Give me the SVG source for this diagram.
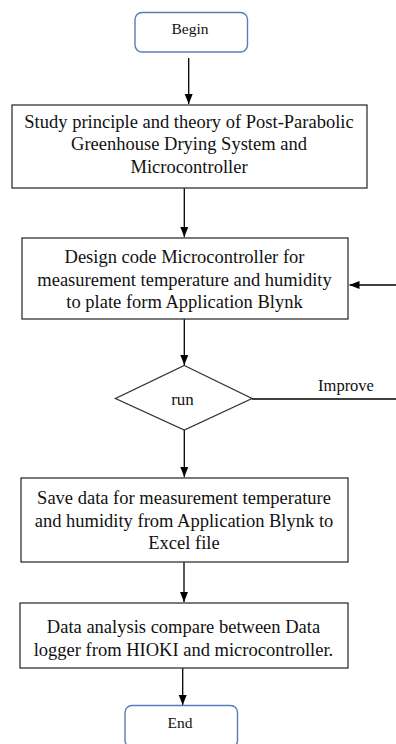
<svg xmlns="http://www.w3.org/2000/svg" width="396" height="744" viewBox="0 0 396 744">
<style>
.box{fill:#fff;stroke:#333;stroke-width:1.3}
.term{fill:#fff;stroke:#5a7db5;stroke-width:1.4}
text{font-family:'Liberation Serif','Times New Roman',serif;fill:#111;text-anchor:middle}
.t{font-size:18.5px}
.s{font-size:15.5px}
.c{stroke:#000;stroke-width:1.3;fill:none}
</style>
<defs>
<marker id="ah" markerUnits="userSpaceOnUse" markerWidth="10" markerHeight="10" viewBox="0 0 10 10" refX="10" refY="5" orient="auto">
<path d="M0,1 L10,5 L0,9 Z" fill="#000"/>
</marker>
</defs>
<g id="connectors">
<line class="c" x1="188.7" y1="58" x2="188.7" y2="104" marker-end="url(#ah)"/>
<line class="c" x1="184.3" y1="188" x2="184.3" y2="237" marker-end="url(#ah)"/>
<line class="c" x1="184.3" y1="319" x2="184.3" y2="365" marker-end="url(#ah)"/>
<line class="c" x1="184.3" y1="430" x2="184.3" y2="477" marker-end="url(#ah)"/>
<line class="c" x1="184" y1="562" x2="184" y2="602" marker-end="url(#ah)"/>
<line class="c" x1="182.7" y1="668" x2="182.7" y2="705" marker-end="url(#ah)"/>
<line class="c" x1="396" y1="285" x2="349.5" y2="285" marker-end="url(#ah)"/>
<line class="c" x1="252" y1="399" x2="396" y2="399"/>
<text x="346" y="391" font-size="16.5">Improve</text>
</g>
<g id="begin">
<rect class="term" x="135" y="12.5" width="112.5" height="39.5" rx="7"/>
<text class="s" x="190" y="33.5">Begin</text>
</g>
<g id="study">
<rect class="box" x="12" y="105" width="355" height="83"/>
<text class="t" x="189" y="127.5">Study principle and theory of Post-Parabolic</text>
<text class="t" x="189" y="150">Greenhouse Drying System and</text>
<text class="t" x="189" y="172.5">Microcontroller</text>
</g>
<g id="design">
<rect class="box" x="22" y="238" width="326" height="81"/>
<text class="t" x="184.5" y="263">Design code Microcontroller for</text>
<text class="t" x="184.5" y="285.5">measurement temperature and humidity</text>
<text class="t" x="184.5" y="308">to plate form Application Blynk</text>
</g>
<g id="run">
<polygon class="box" points="184.3,365.5 252,398.5 184.3,430 115.5,398.5"/>
<text x="182.5" y="405" font-size="17">run</text>
</g>
<g id="save">
<rect class="box" x="21" y="478" width="327" height="84"/>
<text class="t" x="184" y="504">Save data for measurement temperature</text>
<text class="t" x="184" y="526.5">and humidity from Application Blynk to</text>
<text class="t" x="184" y="548.5">Excel file</text>
</g>
<g id="analysis">
<rect class="box" x="20" y="603" width="328" height="65"/>
<text class="t" x="183.5" y="633">Data analysis compare between Data</text>
<text class="t" x="183.5" y="655.5">logger from HIOKI and microcontroller.</text>
</g>
<g id="end">
<rect class="term" x="125" y="705.5" width="112.5" height="42" rx="7"/>
<text class="s" x="180" y="727.5">End</text>
</g>
</svg>
